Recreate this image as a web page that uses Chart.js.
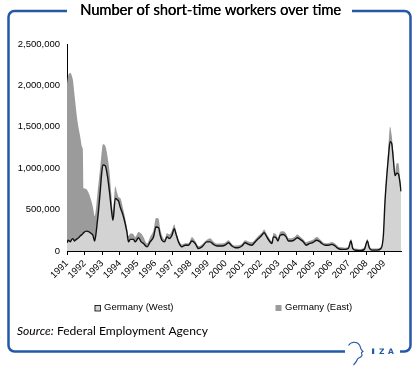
<!DOCTYPE html>
<html>
<head>
<meta charset="utf-8">
<title>Number of short-time workers over time</title>
<script src="https://cdn.jsdelivr.net/npm/chart.js@4.4.0/dist/chart.umd.min.js"></script>
<style>
  html, body { margin: 0; padding: 0; background: #fff; }
  #wrap { position: relative; width: 417px; height: 369px; }
</style>
</head>
<body>
<div id="wrap"><canvas id="chart"></canvas></div>
<script>
// Points, x in decimal years, values in thousands of workers
const dates = [
    1991.00, 1991.07, 1991.19, 1991.27, 1991.34, 1991.42, 1991.47, 1991.60, 1991.75, 1991.85, 1991.90, 1991.94,
    1992.09, 1992.23, 1992.32, 1992.47, 1992.57, 1992.64, 1992.72, 1992.79, 1992.89, 1992.96,
    1993.04, 1993.17, 1993.30, 1993.42, 1993.51, 1993.61, 1993.74, 1993.85, 1993.93,
    1994.02, 1994.21, 1994.40, 1994.49, 1994.59, 1994.78, 1994.87,
    1995.06, 1995.21, 1995.34, 1995.54, 1995.72, 1995.91,
    1996.05, 1996.20, 1996.29, 1996.39, 1996.54, 1996.67, 1996.82, 1996.96,
    1997.09, 1997.18, 1997.33, 1997.52, 1997.71, 1997.90,
    1998.09, 1998.28, 1998.46, 1998.66, 1998.94,
    1999.13, 1999.31, 1999.51, 1999.79, 1999.98,
    2000.17, 2000.36, 2000.55, 2000.73, 2000.93,
    2001.11, 2001.30, 2001.49, 2001.68, 2001.87,
    2002.06, 2002.19, 2002.34, 2002.49, 2002.63, 2002.72, 2002.87, 2002.97,
    2003.10, 2003.28, 2003.44, 2003.57, 2003.76, 2003.89,
    2004.08, 2004.23, 2004.42, 2004.57, 2004.76, 2004.95,
    2005.18, 2005.37, 2005.46, 2005.65, 2005.84,
    2006.03, 2006.22, 2006.40, 2006.60, 2006.78, 2006.97,
    2007.12, 2007.22, 2007.35, 2007.63, 2007.88,
    2008.05, 2008.16, 2008.30, 2008.58, 2008.83, 2008.96,
    2009.05, 2009.15, 2009.24, 2009.34, 2009.43, 2009.52, 2009.62, 2009.72, 2009.81, 2009.90, 2009.96
];
const west = [
    100, 130, 110, 140, 150, 120, 130, 150, 180, 200, 210, 220,
    240, 235, 220, 190, 120, 200, 350, 490, 730, 920,
    1040, 1030, 900, 700, 520, 370, 635, 620, 600,
    530, 410, 230, 110, 140, 140, 110,
    160, 110, 90, 50, 110, 170,
    290, 280, 190, 130, 110, 170, 150, 190,
    270, 210, 110, 50, 70, 70,
    120, 90, 30, 50, 110,
    110, 80, 60, 60, 70,
    100, 60, 40, 40, 60,
    100, 80, 70, 110, 150,
    190, 220, 170, 120, 90, 170, 160, 120,
    190, 200, 170, 120, 120, 130,
    160, 140, 110, 70, 90, 100,
    130, 110, 90, 70, 70,
    80, 60, 30, 20, 20, 30,
    120, 30, 10, 5, 20,
    120, 40, 10, 10, 30, 190,
    590, 900, 1120, 1320, 1300, 1120, 910, 940, 930, 830, 720
];
const east = [
    1920, 1990, 2040, 1980, 1910, 1780, 1670, 1410, 1200, 1060, 1010, 540,
    510, 465, 430, 340, 300, 300, 330, 330, 290, 250,
    250, 240, 240, 240, 180, 100, 145, 80, 50,
    110, 80, 60, 70, 70, 60, 60,
    70, 100, 80, 40, 60, 80,
    110, 110, 80, 60, 30, 45, 50, 60,
    50, 45, 30, 30, 25, 25,
    45, 30, 30, 30, 25,
    45, 35, 30, 30, 30,
    30, 25, 25, 30, 25,
    30, 35, 35, 30, 35,
    30, 40, 35, 35, 30, 45, 40, 40,
    40, 40, 40, 35, 35, 35,
    40, 35, 30, 35, 30, 35,
    40, 30, 30, 25, 25,
    30, 30, 25, 25, 20, 25,
    25, 25, 20, 20, 25,
    25, 25, 20, 20, 25, 25,
    40, 60, 120, 180, 100, 80, 40, 120, 130, 70, 40
];
const yearLabels = [1991, 1992, 1993, 1994, 1995, 1996, 1997, 1998, 1999, 2000,
    2001, 2002, 2003, 2004, 2005, 2006, 2007, 2008, 2009];
const seriesNames = ['Germany (West)', 'Germany (East)'];

const titleText = 'Number of short-time workers over time';
const frameBlue = '#2458a8';
const westGray = '#d3d3d3';
const eastGray = '#9b9b9b';

function withCommas(n) {
    return String(n).replace(/\B(?=(\d{3})+(?!\d))/g, ',');
}

// fit a font to a given pixel width
function fitFont(ctx, text, style, family, width) {
    ctx.font = style + ' 20px ' + family;
    const size = 20 * width / ctx.measureText(text).width;
    return size;
}

const decorPlugin = {
    id: 'izaDecor',
    afterDraw(chart) {
        const ctx = chart.ctx;
        ctx.save();

        // rounded blue frame with gaps for title and logo
        const L = 8.5, T = 11, R = 410.5, B = 351.5, r = 6;
        ctx.strokeStyle = frameBlue;
        ctx.lineWidth = 2.5;
        ctx.beginPath();
        ctx.moveTo(67, T);
        ctx.lineTo(L + r, T);
        ctx.arcTo(L, T, L, T + r, r);
        ctx.lineTo(L, B - r);
        ctx.arcTo(L, B, L + r, B, r);
        ctx.lineTo(345, B);
        ctx.moveTo(400, B);
        ctx.lineTo(R - r, B);
        ctx.arcTo(R, B, R, B - r, r);
        ctx.lineTo(R, T + r);
        ctx.arcTo(R, T, R - r, T, r);
        ctx.lineTo(352, T);
        ctx.stroke();

        // title
        const ts = fitFont(ctx, titleText, '', 'Lato', 261);
        ctx.font = ts.toFixed(2) + 'px Lato';
        ctx.fillStyle = '#000';
        ctx.textAlign = 'center';
        ctx.textBaseline = 'alphabetic';
        ctx.fillText(titleText, 210.5, 14.5);
        ctx.fillText(titleText, 210.8, 14.5);

        // source line
        const srcA = 'Source:', srcB = ' Federal Employment Agency';
        ctx.textAlign = 'left';
        ctx.font = 'italic 12px Lato';
        const wa = ctx.measureText(srcA).width;
        ctx.font = '12px Lato';
        const wb = ctx.measureText(srcB).width;
        const k = 191 / (wa + wb);
        ctx.font = 'italic ' + (12 * k).toFixed(2) + 'px Lato';
        ctx.fillText(srcA, 17, 335);
        ctx.font = (12 * k).toFixed(2) + 'px Lato';
        ctx.fillText(srcB, 17 + wa * k, 335);

        // legend
        const legendX = [94.5, 275.5];
        ctx.font = '9.5px "Liberation Sans", Arial, sans-serif';
        ctx.textBaseline = 'middle';
        chart.data.datasets.forEach((ds, i) => {
            const bx = legendX[i], by = 305;
            ctx.fillStyle = ds.backgroundColor;
            ctx.fillRect(bx, by, 6, 6);
            if (i === 0) {
                ctx.strokeStyle = '#000';
                ctx.lineWidth = 0.8;
                ctx.strokeRect(bx + 0.5, by + 0.5, 5.5, 5.5);
            }
            ctx.fillStyle = '#000';
            ctx.fillText(ds.label, bx + 9.5, by + 2.5);
        });

        // IZA logo: head outline and letters
        ctx.strokeStyle = frameBlue;
        ctx.lineWidth = 1.1;
        ctx.beginPath();
        ctx.moveTo(348.5, 345.5);
        ctx.bezierCurveTo(351, 341.5, 357, 341, 359.5, 345);
        ctx.bezierCurveTo(360.5, 347, 360.5, 348.5, 361.5, 350);
        ctx.lineTo(363, 351.5);
        ctx.lineTo(361.5, 352.5);
        ctx.lineTo(362, 355.5);
        ctx.bezierCurveTo(361, 358, 358.5, 357.5, 357.5, 359);
        ctx.bezierCurveTo(357, 361, 355.5, 363, 353.5, 365);
        ctx.stroke();
        ctx.fillStyle = frameBlue;
        ctx.fillRect(372, 348.5, 2.2, 5.5);
        ctx.font = 'bold 7.5px "DejaVu Sans", sans-serif';
        ctx.textBaseline = 'alphabetic';
        ctx.textAlign = 'left';
        ctx.fillText('Z', 379, 354);
        ctx.fillText('A', 388, 354);

        ctx.restore();
    }
};

const ctx = document.getElementById('chart').getContext('2d');
const chart = new Chart(ctx, {
    type: 'line',
    data: {
        datasets: [{
            label: seriesNames[0],
            data: dates.map((d, i) => ({ x: d, y: west[i] })),
            backgroundColor: westGray,
            borderColor: '#111',
            borderWidth: 1.4,
            fill: 'origin',
            pointRadius: 0,
            cubicInterpolationMode: 'monotone'
        }, {
            label: seriesNames[1],
            data: dates.map((d, i) => ({ x: d, y: east[i] })),
            backgroundColor: eastGray,
            borderColor: eastGray,
            borderWidth: 0,
            fill: '-1',
            pointRadius: 0,
            cubicInterpolationMode: 'monotone'
        }]
    },
    options: {
        responsive: true,
        maintainAspectRatio: false,
        devicePixelRatio: 1,
        animation: false,
        layout: {
            padding: { top: 44, left: 0, right: 15.3, bottom: 78 }
        },
        plugins: {
            legend: { display: false },
            tooltip: { enabled: false }
        },
        scales: {
            x: {
                type: 'linear',
                min: 1991,
                max: 2010,
                afterFit: function (scale) { scale.height = 40; },
                afterBuildTicks: function (scale) {
                    scale.ticks = yearLabels.map(v => ({ value: v }));
                },
                ticks: {
                    autoSkip: false,
                    minRotation: 45,
                    maxRotation: 45,
                    padding: 3,
                    color: '#000',
                    font: { family: '"Liberation Sans", Arial, sans-serif', size: 9.5 },
                    callback: function (v) { return String(v); }
                },
                grid: {
                    drawOnChartArea: false,
                    drawTicks: true,
                    tickLength: 4,
                    color: '#000',
                    lineWidth: 1
                },
                border: { display: true, color: '#000', width: 1 }
            },
            y: {
                stacked: true,
                min: 0,
                max: 2500,
                afterFit: function (scale) { scale.width = 67; },
                ticks: {
                    stepSize: 500,
                    padding: 3,
                    color: '#000',
                    font: { family: '"Liberation Sans", Arial, sans-serif', size: 9.5 },
                    callback: function (v) { return withCommas(v * 1000); }
                },
                grid: { display: false, tickLength: 4 },
                border: { display: true, color: '#000', width: 1 }
            }
        }
    },
    plugins: [decorPlugin]
});
</script>
</body>
</html>
